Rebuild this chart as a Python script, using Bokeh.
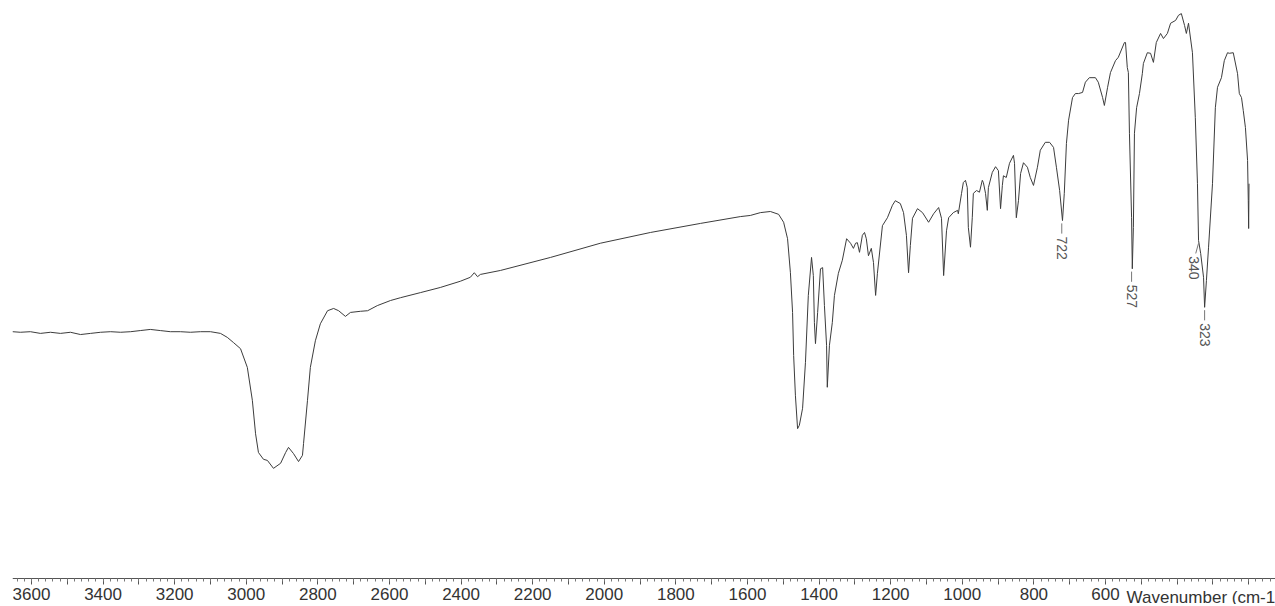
import numpy as np
from bokeh.plotting import figure
from bokeh.models import Range1d, FixedTicker, Label, ColumnDataSource, LinearAxis
from bokeh.core.properties import value
from bokeh.embed import file_html
from bokeh.resources import INLINE

# ---- data ----
wavenumber = [
    3653, 3631, 3603, 3575, 3547, 3519, 3491, 3463, 3435, 3407, 3379, 3351, 3323, 3296, 3268, 3240,
    3212, 3184, 3156, 3128, 3100, 3072, 3053, 3036, 3016, 2997, 2983, 2974, 2966, 2952, 2941, 2924,
    2904, 2890, 2882, 2868, 2854, 2843, 2840, 2829, 2821, 2807, 2793, 2773, 2756, 2742, 2723, 2709,
    2681, 2661, 2634, 2597, 2569, 2513, 2458, 2402, 2374, 2363, 2354, 2346, 2290, 2150, 2011, 1871,
    1731, 1620, 1592, 1564, 1536, 1513, 1499, 1488, 1480, 1474, 1471, 1466, 1460, 1455, 1446, 1438,
    1430, 1421, 1416, 1413, 1410, 1404, 1396, 1390, 1385, 1379, 1377, 1371, 1363, 1357, 1346, 1335,
    1323, 1312, 1304, 1298, 1293, 1287, 1279, 1273, 1268, 1262, 1254, 1248, 1242, 1237, 1223, 1209,
    1195, 1187, 1173, 1164, 1156, 1150, 1145, 1139, 1125, 1111, 1094, 1080, 1066, 1058, 1052, 1044,
    1038, 1025, 1013, 1011, 1002, 997, 991, 986, 983, 977, 972, 969, 960, 952, 944, 941,
    935, 930, 927, 916, 907, 899, 893, 888, 885, 877, 868, 857, 854, 849, 843, 837,
    829, 818, 810, 801, 790, 782, 768, 756, 745, 737, 728, 720, 715, 709, 703, 692,
    684, 675, 664, 656, 645, 628, 620, 608, 603, 594, 586, 572, 564, 547, 544, 539,
    536, 533, 527, 525, 522, 519, 513, 505, 497, 494, 483, 474, 466, 458, 446, 438,
    427, 418, 404, 396, 388, 379, 374, 368, 357, 349, 343, 340, 334, 326, 323, 318,
    312, 301, 293, 287, 276, 268, 259, 254, 243, 231, 226, 220, 215, 209, 203, 201,
    200, 199,
]
transmittance = [
    43.0, 42.9, 43.0, 42.7, 42.9, 42.7, 42.9, 42.5, 42.7, 42.9, 43.0, 42.9, 43.0, 43.2, 43.4, 43.2,
    43.0, 43.0, 42.9, 43.0, 43.0, 42.7, 42.0, 41.1, 40.0, 36.7, 30.9, 25.0, 21.7, 20.5, 20.3, 18.9,
    19.8, 21.7, 22.6, 21.5, 20.1, 21.2, 23.3, 30.9, 36.7, 41.4, 44.4, 46.7, 47.1, 46.7, 45.7, 46.4,
    46.6, 46.7, 47.6, 48.5, 49.0, 49.9, 50.8, 51.9, 52.6, 53.4, 52.7, 53.1, 53.8, 56.1, 58.6, 60.5,
    62.1, 63.3, 63.5, 64.0, 64.2, 63.7, 62.3, 59.4, 53.4, 46.4, 38.8, 31.7, 25.9, 26.5, 29.5, 37.6,
    49.4, 56.1, 52.9, 44.6, 40.9, 46.4, 54.1, 54.3, 47.6, 40.6, 33.2, 40.6, 44.6, 49.4, 53.3, 55.6,
    59.4, 58.6, 57.7, 58.6, 58.7, 57.0, 60.0, 60.5, 59.4, 56.4, 57.7, 55.2, 49.4, 53.3, 61.7, 63.1,
    65.3, 66.1, 65.6, 64.0, 60.0, 53.4, 58.2, 63.0, 64.7, 64.0, 62.3, 63.8, 64.9, 63.0, 52.9, 60.8,
    63.1, 64.0, 64.4, 63.8, 67.4, 69.3, 69.7, 68.4, 61.4, 57.9, 63.1, 67.4, 67.9, 67.6, 69.7, 69.3,
    67.4, 64.4, 68.4, 71.1, 72.1, 71.4, 64.7, 68.8, 70.5, 70.2, 72.7, 74.1, 72.7, 63.1, 66.1, 70.9,
    72.8, 72.0, 70.2, 68.8, 72.0, 75.0, 76.4, 76.4, 75.5, 72.0, 67.9, 62.6, 67.4, 76.2, 80.3, 84.3,
    85.0, 85.0, 85.2, 87.0, 87.8, 87.8, 87.0, 84.3, 82.9, 86.1, 88.7, 90.8, 91.4, 94.0, 94.0, 89.6,
    88.7, 78.0, 63.1, 54.1, 61.4, 78.0, 82.5, 85.0, 88.5, 90.3, 92.2, 92.1, 90.5, 94.0, 95.6, 94.7,
    95.6, 97.4, 97.9, 98.8, 99.1, 97.0, 95.6, 97.4, 92.2, 80.8, 69.1, 59.1, 56.8, 52.6, 47.3, 52.0,
    57.9, 69.1, 82.5, 86.1, 87.8, 90.8, 92.2, 92.1, 92.2, 88.5, 85.0, 84.3, 82.0, 79.0, 73.2, 66.1,
    61.2, 69.1,
]

peak_positions = [722, 527, 340, 323]
peak_labels = ["722", "527", "340", "323"]
peak_values = [62.6, 54.1, 59.1, 47.3]

tick_values = list(range(200, 3700, 100))
minor_tick_values = list(range(140, 3660, 20))
labelled_ticks = [3600, 3400, 3200, 3000, 2800, 2600, 2400, 2200, 2000, 1800, 1600, 1400, 1200, 1000, 800, 600]
axis_title = "Wavenumber (cm-1)"

AXIS_Y = -0.53          # data level at which the wavenumber axis is drawn
TITLE_X, TITLE_Y = 541, -2.12

# ---- figure ----
p = figure(width=1275, height=604, output_backend="svg", toolbar_location=None,
           x_range=Range1d(3653, 125), y_range=Range1d(-5.11, 101.41),
           x_axis_location=None, y_axis_location=None,
           min_border_left=12, min_border_right=0,
           min_border_top=0, min_border_bottom=0)
p.outline_line_color = None
p.background_fill_color = "white"
p.border_fill_color = "white"
p.grid.visible = False

p.line(wavenumber, transmittance, line_color="#3c3c3c", line_width=1)

# peak annotations
label_shift = {"340": 13}
seg_x0, seg_x1, seg_y0, seg_y1, tx, ty = [], [], [], [], [], []
for pos, lab, val in zip(peak_positions, peak_labels, peak_values):
    shift = label_shift.get(lab, 0)
    seg_x0.append(pos)
    seg_x1.append(pos + shift * 0.6)
    seg_y0.append(val - 0.5)
    seg_y1.append(val - 2.3)
    tx.append(pos + shift)
    ty.append(val - 2.8)
p.segment(seg_x0, seg_y0, seg_x1, seg_y1, line_color="#777777", line_width=1)
src = ColumnDataSource(dict(x=tx, y=ty, t=peak_labels))
p.text(x="x", y="y", text="t", source=src, angle=-np.pi / 2, text_align="left",
       text_baseline="middle", text_font=value("Liberation Sans"), text_font_size="14px",
       text_color="#555555")

# x axis, drawn at a fixed level inside the frame
ax = LinearAxis(fixed_location=AXIS_Y)
ax.ticker = FixedTicker(ticks=tick_values, minor_ticks=minor_tick_values)
ax.major_label_overrides = {v: (str(v) if v in labelled_ticks else "") for v in tick_values}
ax.axis_line_color = "#555555"
ax.major_tick_line_color = "#555555"
ax.minor_tick_line_color = "#777777"
ax.major_tick_in = 0
ax.major_tick_out = 6
ax.minor_tick_in = 0
ax.minor_tick_out = 3
ax.major_label_standoff = 3
ax.major_label_text_font = "Liberation Sans"
ax.major_label_text_font_size = "17px"
ax.major_label_text_color = "#333333"
p.add_layout(ax, "below")

p.add_layout(Label(x=TITLE_X, y=TITLE_Y, text=axis_title, text_align="left",
                   text_baseline="top", text_font="Liberation Sans",
                   text_font_size="17px", text_color="#333333"))

open("out.html", "w").write(file_html(p, INLINE))
